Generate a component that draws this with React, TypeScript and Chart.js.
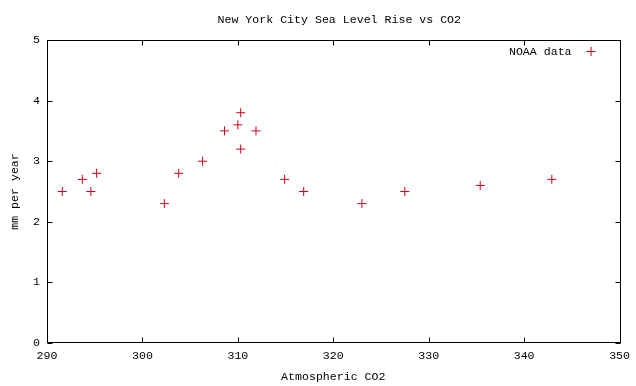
import React, { useEffect, useRef } from "react";
import { Chart, registerables } from "chart.js";

Chart.register(...registerables);

const co2 = [291.6, 293.7, 294.6, 295.2, 302.3, 303.8, 306.3, 308.6, 310.0, 310.3, 310.3, 311.9, 314.9, 316.9, 323.0, 327.5, 335.4, 342.9];
const mmPerYear = [2.5, 2.7, 2.5, 2.8, 2.3, 2.8, 3.0, 3.5, 3.6, 3.8, 3.2, 3.5, 2.7, 2.5, 2.3, 2.5, 2.6, 2.7];
const chartTitle = "New York City Sea Level Rise vs CO2";
const seriesLabel = "NOAA data";
const xTitle = "Atmospheric CO2";
const yTitle = "mm per year";

const FONT = "'Liberation Mono', 'DejaVu Sans Mono', monospace";
const FS = 11.6;
const RED = "rgb(205,0,25)";

const framePlugin = {
  id: "frame",
  afterDraw(chart: any) {
    const { ctx, chartArea } = chart;
    const { left, right, top, bottom } = chartArea;
    const xs = chart.scales.x;
    const ys = chart.scales.y;
    ctx.save();
    ctx.strokeStyle = "#000";
    ctx.lineWidth = 1;
    const L = Math.round(left) + 0.5, R = Math.round(right) + 0.5;
    const T = Math.round(top) + 0.5, B = Math.round(bottom) - 0.5;
    ctx.strokeRect(L, T, R - L, B - T);
    const tl = 5;
    ctx.beginPath();
    xs.ticks.forEach((t: any) => {
      const x = Math.round(xs.getPixelForValue(t.value)) + 0.5;
      ctx.moveTo(x, B); ctx.lineTo(x, B - tl);
      ctx.moveTo(x, T); ctx.lineTo(x, T + tl);
    });
    ys.ticks.forEach((t: any) => {
      const y = Math.round(ys.getPixelForValue(t.value)) + 0.5;
      ctx.moveTo(L, y); ctx.lineTo(L + tl, y);
      ctx.moveTo(R, y); ctx.lineTo(R - tl, y);
    });
    ctx.stroke();

    // title
    ctx.fillStyle = "#000";
    ctx.font = `${FS}px ${FONT}`;
    ctx.textAlign = "center";
    ctx.textBaseline = "middle";
    ctx.fillText(chartTitle, (left + right) / 2 + 6, 20);

    // legend inside plot
    ctx.textAlign = "right";
    ctx.fillText(seriesLabel, right - 48, top + 12);
    ctx.strokeStyle = RED;
    ctx.beginPath();
    const cx = right - 29, cy = top + 11;
    ctx.moveTo(cx - 4, cy + 0.5); ctx.lineTo(cx + 5, cy + 0.5);
    ctx.moveTo(cx + 0.5, cy - 4); ctx.lineTo(cx + 0.5, cy + 5);
    ctx.stroke();
    ctx.restore();
  },
};

export default function App() {
  const ref = useRef<HTMLCanvasElement>(null);
  useEffect(() => {
    const chart = new Chart(ref.current!, {
      type: "scatter",
      data: {
        datasets: [
          {
            label: seriesLabel,
            data: co2.map((x, i) => ({ x, y: mmPerYear[i] })),
            pointStyle: "cross",
            pointRadius: 4.5,
            pointBorderWidth: 1,
            borderColor: RED,
            backgroundColor: RED,
          },
        ],
      },
      options: {
        responsive: false,
        animation: false,
        layout: { padding: { top: 40, right: 16, left: 0, bottom: 0 } },
        plugins: {
          legend: { display: false },
          title: { display: false },
          tooltip: { enabled: false },
        },
        scales: {
          x: {
            type: "linear",
            min: 290,
            max: 350,
            ticks: { stepSize: 10, color: "#000", font: { family: FONT, size: FS }, padding: 6 },
            grid: { display: false, drawTicks: false },
            border: { display: false },
            title: { display: true, text: xTitle, color: "#000", font: { family: FONT, size: FS }, padding: { top: 0, bottom: 2 } },
            afterFit: (s: any) => { s.height = 43; },
          },
          y: {
            type: "linear",
            min: 0,
            max: 5,
            ticks: { stepSize: 1, color: "#000", font: { family: FONT, size: FS }, padding: 7 },
            grid: { display: false, drawTicks: false },
            border: { display: false },
            title: { display: true, text: yTitle, color: "#000", font: { family: FONT, size: FS }, padding: { top: 8, bottom: 0 } },
            afterFit: (s: any) => { s.width = 47; },
          },
        },
      },
      plugins: [framePlugin],
    });
    return () => chart.destroy();
  }, []);
  return (
    <div style={{ position: "absolute", left: 0, top: 0, width: 636, height: 386, background: "#fff" }}>
      <canvas ref={ref} width={636} height={386} />
    </div>
  );
}
